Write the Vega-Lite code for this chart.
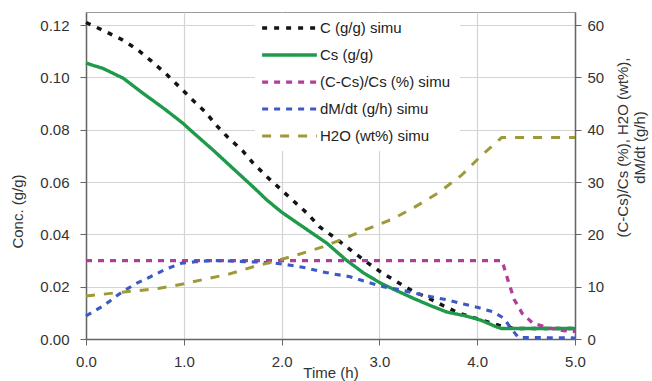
{
  "$schema": "https://vega.github.io/schema/vega-lite/v6.json",
  "width": 489,
  "height": 327,
  "autosize": "none",
  "padding": {"left": 86, "top": 12, "right": 77, "bottom": 42},
  "background": "white",
  "config": {
    "font": "Liberation Sans",
    "view": {"stroke": "#9a9a9a", "strokeWidth": 1},
    "axis": {
      "labelFont": "Liberation Sans",
      "titleFont": "Liberation Sans",
      "labelFontSize": 15,
      "titleFontSize": 15,
      "titleFontWeight": "normal",
      "labelColor": "#333",
      "titleColor": "#333",
      "domainColor": "#666",
      "domainWidth": 1.5,
      "tickColor": "#666",
      "tickSize": 6,
      "gridColor": "#d4d4d4",
      "gridWidth": 1.2,
      "labelFlush": false
    }
  },
  "data": {
    "values": [
      {"s": "C (g/g) simu", "t": 0, "v": 0.121},
      {"s": "C (g/g) simu", "t": 0.19, "v": 0.1177},
      {"s": "C (g/g) simu", "t": 0.36, "v": 0.1146},
      {"s": "C (g/g) simu", "t": 0.52, "v": 0.1108},
      {"s": "C (g/g) simu", "t": 0.67, "v": 0.1062},
      {"s": "C (g/g) simu", "t": 0.82, "v": 0.1013},
      {"s": "C (g/g) simu", "t": 0.96, "v": 0.0962},
      {"s": "C (g/g) simu", "t": 1.08, "v": 0.0917},
      {"s": "C (g/g) simu", "t": 1.22, "v": 0.0868},
      {"s": "C (g/g) simu", "t": 1.33, "v": 0.0818},
      {"s": "C (g/g) simu", "t": 1.45, "v": 0.0771},
      {"s": "C (g/g) simu", "t": 1.6, "v": 0.072},
      {"s": "C (g/g) simu", "t": 1.71, "v": 0.0672},
      {"s": "C (g/g) simu", "t": 1.85, "v": 0.062},
      {"s": "C (g/g) simu", "t": 1.98, "v": 0.0576},
      {"s": "C (g/g) simu", "t": 2.12, "v": 0.0528},
      {"s": "C (g/g) simu", "t": 2.26, "v": 0.0481},
      {"s": "C (g/g) simu", "t": 2.39, "v": 0.0428},
      {"s": "C (g/g) simu", "t": 2.55, "v": 0.0386},
      {"s": "C (g/g) simu", "t": 2.72, "v": 0.0336},
      {"s": "C (g/g) simu", "t": 2.88, "v": 0.0291},
      {"s": "C (g/g) simu", "t": 3.03, "v": 0.0252},
      {"s": "C (g/g) simu", "t": 3.19, "v": 0.0216},
      {"s": "C (g/g) simu", "t": 3.34, "v": 0.0183},
      {"s": "C (g/g) simu", "t": 3.5, "v": 0.0157},
      {"s": "C (g/g) simu", "t": 3.66, "v": 0.0126},
      {"s": "C (g/g) simu", "t": 3.82, "v": 0.0098},
      {"s": "C (g/g) simu", "t": 3.98, "v": 0.008},
      {"s": "C (g/g) simu", "t": 4.13, "v": 0.0063},
      {"s": "C (g/g) simu", "t": 4.28, "v": 0.0046},
      {"s": "C (g/g) simu", "t": 4.4, "v": 0.004},
      {"s": "C (g/g) simu", "t": 5.0, "v": 0.004},
      {"s": "Cs (g/g)", "t": 0, "v": 0.1055},
      {"s": "Cs (g/g)", "t": 0.08, "v": 0.1045},
      {"s": "Cs (g/g)", "t": 0.17, "v": 0.1035},
      {"s": "Cs (g/g)", "t": 0.38, "v": 0.0997},
      {"s": "Cs (g/g)", "t": 0.58, "v": 0.094},
      {"s": "Cs (g/g)", "t": 0.79, "v": 0.0883},
      {"s": "Cs (g/g)", "t": 0.99, "v": 0.0825},
      {"s": "Cs (g/g)", "t": 1.09, "v": 0.0791},
      {"s": "Cs (g/g)", "t": 1.3, "v": 0.0722},
      {"s": "Cs (g/g)", "t": 1.5, "v": 0.0653},
      {"s": "Cs (g/g)", "t": 1.71, "v": 0.0581},
      {"s": "Cs (g/g)", "t": 1.85, "v": 0.0531},
      {"s": "Cs (g/g)", "t": 2.0, "v": 0.0485},
      {"s": "Cs (g/g)", "t": 2.19, "v": 0.0436},
      {"s": "Cs (g/g)", "t": 2.46, "v": 0.0367},
      {"s": "Cs (g/g)", "t": 2.66, "v": 0.0302},
      {"s": "Cs (g/g)", "t": 2.84, "v": 0.0252},
      {"s": "Cs (g/g)", "t": 3.01, "v": 0.0214},
      {"s": "Cs (g/g)", "t": 3.18, "v": 0.0184},
      {"s": "Cs (g/g)", "t": 3.35, "v": 0.0155},
      {"s": "Cs (g/g)", "t": 3.52, "v": 0.0128},
      {"s": "Cs (g/g)", "t": 3.69, "v": 0.0103},
      {"s": "Cs (g/g)", "t": 3.86, "v": 0.009},
      {"s": "Cs (g/g)", "t": 4.03, "v": 0.0073},
      {"s": "Cs (g/g)", "t": 4.2, "v": 0.0046},
      {"s": "Cs (g/g)", "t": 4.25, "v": 0.004},
      {"s": "Cs (g/g)", "t": 5.0, "v": 0.004},
      {"s": "(C-Cs)/Cs (%)  simu", "t": 0, "v": 15},
      {"s": "(C-Cs)/Cs (%)  simu", "t": 4.25, "v": 15},
      {"s": "(C-Cs)/Cs (%)  simu", "t": 4.27, "v": 14},
      {"s": "(C-Cs)/Cs (%)  simu", "t": 4.32, "v": 10.9},
      {"s": "(C-Cs)/Cs (%)  simu", "t": 4.38, "v": 7.5},
      {"s": "(C-Cs)/Cs (%)  simu", "t": 4.46, "v": 4.9},
      {"s": "(C-Cs)/Cs (%)  simu", "t": 4.57, "v": 3.0},
      {"s": "(C-Cs)/Cs (%)  simu", "t": 4.74, "v": 2.1},
      {"s": "(C-Cs)/Cs (%)  simu", "t": 4.88, "v": 1.6},
      {"s": "(C-Cs)/Cs (%)  simu", "t": 5.0, "v": 1.4},
      {"s": "dM/dt (g/h)  simu", "t": 0, "v": 4.4},
      {"s": "dM/dt (g/h)  simu", "t": 0.19, "v": 6.5},
      {"s": "dM/dt (g/h)  simu", "t": 0.34, "v": 8.6},
      {"s": "dM/dt (g/h)  simu", "t": 0.5, "v": 10.5},
      {"s": "dM/dt (g/h)  simu", "t": 0.66, "v": 11.9},
      {"s": "dM/dt (g/h)  simu", "t": 0.82, "v": 13.4},
      {"s": "dM/dt (g/h)  simu", "t": 0.98, "v": 14.5},
      {"s": "dM/dt (g/h)  simu", "t": 1.14, "v": 14.8},
      {"s": "dM/dt (g/h)  simu", "t": 1.3, "v": 15.0},
      {"s": "dM/dt (g/h)  simu", "t": 1.46, "v": 14.9},
      {"s": "dM/dt (g/h)  simu", "t": 1.62, "v": 14.8},
      {"s": "dM/dt (g/h)  simu", "t": 1.77, "v": 14.7},
      {"s": "dM/dt (g/h)  simu", "t": 1.93, "v": 14.5},
      {"s": "dM/dt (g/h)  simu", "t": 2.09, "v": 14.1},
      {"s": "dM/dt (g/h)  simu", "t": 2.25, "v": 13.6},
      {"s": "dM/dt (g/h)  simu", "t": 2.4, "v": 12.9},
      {"s": "dM/dt (g/h)  simu", "t": 2.54, "v": 12.4},
      {"s": "dM/dt (g/h)  simu", "t": 2.7, "v": 11.9},
      {"s": "dM/dt (g/h)  simu", "t": 2.87, "v": 10.9},
      {"s": "dM/dt (g/h)  simu", "t": 3.04, "v": 10.0},
      {"s": "dM/dt (g/h)  simu", "t": 3.21, "v": 9.4},
      {"s": "dM/dt (g/h)  simu", "t": 3.35, "v": 8.8},
      {"s": "dM/dt (g/h)  simu", "t": 3.52, "v": 8.1},
      {"s": "dM/dt (g/h)  simu", "t": 3.69, "v": 7.5},
      {"s": "dM/dt (g/h)  simu", "t": 3.86, "v": 6.7},
      {"s": "dM/dt (g/h)  simu", "t": 4.01, "v": 6.0},
      {"s": "dM/dt (g/h)  simu", "t": 4.16, "v": 5.2},
      {"s": "dM/dt (g/h)  simu", "t": 4.27, "v": 4.0},
      {"s": "dM/dt (g/h)  simu", "t": 4.36, "v": 1.7},
      {"s": "dM/dt (g/h)  simu", "t": 4.42, "v": 0.3},
      {"s": "dM/dt (g/h)  simu", "t": 5.0, "v": 0.2},
      {"s": "H2O (wt%) simu", "t": 0, "v": 8.2},
      {"s": "H2O (wt%) simu", "t": 0.29, "v": 8.8},
      {"s": "H2O (wt%) simu", "t": 0.51, "v": 9.2},
      {"s": "H2O (wt%) simu", "t": 0.75, "v": 9.7},
      {"s": "H2O (wt%) simu", "t": 0.99, "v": 10.5},
      {"s": "H2O (wt%) simu", "t": 1.23, "v": 11.5},
      {"s": "H2O (wt%) simu", "t": 1.46, "v": 12.4},
      {"s": "H2O (wt%) simu", "t": 1.71, "v": 13.8},
      {"s": "H2O (wt%) simu", "t": 1.94, "v": 14.9},
      {"s": "H2O (wt%) simu", "t": 2.18, "v": 16.2},
      {"s": "H2O (wt%) simu", "t": 2.42, "v": 17.6},
      {"s": "H2O (wt%) simu", "t": 2.65, "v": 19.3},
      {"s": "H2O (wt%) simu", "t": 2.9, "v": 21.2},
      {"s": "H2O (wt%) simu", "t": 3.13, "v": 22.9},
      {"s": "H2O (wt%) simu", "t": 3.36, "v": 25.2},
      {"s": "H2O (wt%) simu", "t": 3.6, "v": 27.9},
      {"s": "H2O (wt%) simu", "t": 3.84, "v": 31.3},
      {"s": "H2O (wt%) simu", "t": 4.05, "v": 35.2},
      {"s": "H2O (wt%) simu", "t": 4.25, "v": 38.5},
      {"s": "H2O (wt%) simu", "t": 5.0, "v": 38.5}
    ]
  },
  "encoding": {
    "x": {
      "field": "t", "type": "quantitative",
      "scale": {"domain": [0, 5], "nice": false},
      "axis": {
        "title": "Time (h)", "values": [0, 1, 2, 3, 4, 5], "format": ".1f",
        "labelPadding": 9, "titleBaseline": "bottom", "titleY": 41
      }
    },
    "color": {
      "field": "s", "type": "nominal",
      "scale": {
        "domain": ["C (g/g) simu", "Cs (g/g)", "(C-Cs)/Cs (%)  simu", "dM/dt (g/h)  simu", "H2O (wt%) simu"],
        "range": ["#141414", "#1f9a4a", "#b03c9c", "#3d59c6", "#9e9a3a"]
      },
      "legend": {
        "title": null,
        "orient": "none",
        "legendX": 169,
        "legendY": 1,
        "fillColor": "white",
        "padding": 5,
        "symbolType": "stroke",
        "symbolSize": 3000,
        "clipHeight": 20,
        "labelFont": "Liberation Sans",
        "labelFontSize": 15,
        "labelColor": "#222",
        "labelOffset": 1,
        "rowPadding": 7
      }
    },
    "strokeDash": {
      "field": "s", "type": "nominal",
      "scale": {
        "domain": ["C (g/g) simu", "Cs (g/g)", "(C-Cs)/Cs (%)  simu", "dM/dt (g/h)  simu", "H2O (wt%) simu"],
        "range": [[5, 7], [1, 0], [6, 6], [6, 6], [9, 9]]
      }
    },
    "strokeWidth": {
      "field": "s", "type": "nominal",
      "scale": {
        "domain": ["C (g/g) simu", "Cs (g/g)", "(C-Cs)/Cs (%)  simu", "dM/dt (g/h)  simu", "H2O (wt%) simu"],
        "range": [3.5, 3, 3, 3, 5]
      }
    }
  },
  "layer": [
    {
      "transform": [{"filter": "datum.s === 'C (g/g) simu' || datum.s === 'Cs (g/g)'"}],
      "mark": {"type": "line"},
      "encoding": {
        "y": {
          "field": "v", "type": "quantitative",
          "scale": {"domain": [0, 0.125], "nice": false},
          "axis": {
            "title": "Conc. (g/g)", "values": [0, 0.02, 0.04, 0.06, 0.08, 0.1, 0.12],
            "format": ".2f", "labelPadding": 11, "titleY": 199, "titlePadding": 14
          }
        }
      }
    },
    {
      "transform": [{"filter": "datum.s !== 'C (g/g) simu' && datum.s !== 'Cs (g/g)'"}],
      "mark": {"type": "line"},
      "encoding": {
        "y": {
          "field": "v", "type": "quantitative",
          "scale": {"domain": [0, 62.5], "nice": false},
          "axis": {
            "orient": "right", "grid": false,
            "title": ["(C-Cs)/Cs (%), H2O (wt%),", "dM/dt (g/h)"],
            "titleAngle": 270, "titleY": 135,
            "values": [0, 10, 20, 30, 40, 50, 60],
            "labelPadding": 6, "titlePadding": 10
          }
        }
      }
    }
  ],
  "resolve": {"scale": {"y": "independent"}}
}
